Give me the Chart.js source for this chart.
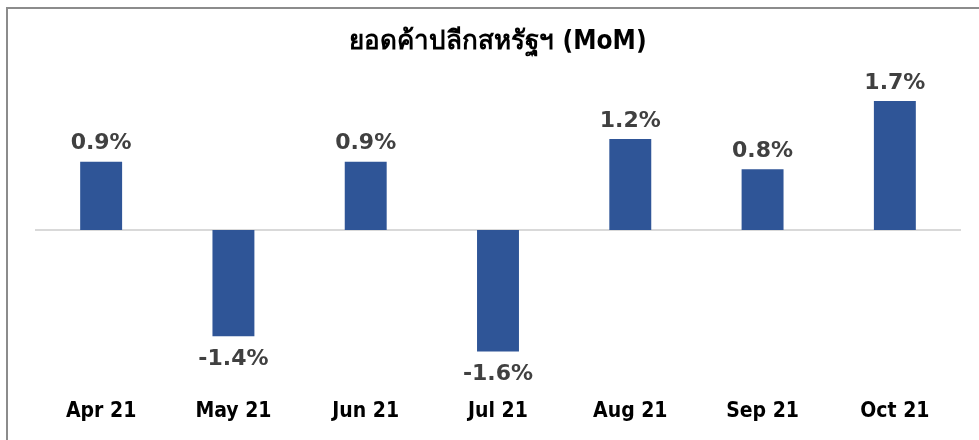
<!DOCTYPE html>
<html><head><meta charset="utf-8">
<script src="https://cdn.jsdelivr.net/npm/chart.js@4.4.0/dist/chart.umd.min.js"></script>
<style>
html,body{margin:0;padding:0;background:#fff;width:979px;height:440px;overflow:hidden;}
#frame{position:absolute;left:6px;top:7px;width:990px;height:450px;border-left:2px solid #8c8c8c;border-top:2px solid #8c8c8c;box-sizing:border-box;}
#wrap{position:absolute;left:0;top:0;width:979px;height:440px;}
</style></head><body>
<div id="frame"></div>
<div id="wrap"><canvas id="c" width="979" height="440"></canvas></div>
<script>
const categories = ["Apr 21","May 21","Jun 21","Jul 21","Aug 21","Sep 21","Oct 21"];
const values = [0.9, -1.4, 0.9, -1.6, 1.2, 0.8, 1.7];
const titleText = "ยอดค้าปลีกสหรัฐฯ (MoM)";

const labelPlugin = {
  id:'vlabels',
  afterDatasetsDraw(chart){
    const ctx = chart.ctx;
    const meta = chart.getDatasetMeta(0);
    ctx.save();
    ctx.font = "bold 22px 'DejaVu Sans'";
    ctx.fillStyle = "#404040";
    ctx.textAlign = "center";
    meta.data.forEach((bar,i)=>{
      const v = values[i];
      const txt = v.toFixed(1) + "%";
      if (v >= 0) { ctx.textBaseline = "bottom"; ctx.fillText(txt, bar.x, bar.y - 7); }
      else { ctx.textBaseline = "top"; ctx.fillText(txt, bar.x, bar.y + 12); }
    });
    ctx.restore();
  }
};
const zeroPlugin = {
  id:'zero',
  beforeDatasetsDraw(chart){
    const ctx = chart.ctx, y = chart.scales.y.getPixelForValue(0), a = chart.chartArea;
    ctx.save(); ctx.strokeStyle="#d9d9d9"; ctx.lineWidth=2;
    ctx.beginPath(); ctx.moveTo(a.left,y); ctx.lineTo(a.right,y); ctx.stroke(); ctx.restore();
  }
};

new Chart(document.getElementById('c'), {
  type:'bar',
  data:{labels:categories, datasets:[{data:values, backgroundColor:"#2F5597", barPercentage:0.317, categoryPercentage:1.0}]},
  options:{
    responsive:false, animation:false,
    layout:{padding:{left:35, right:18, top:0, bottom:-1}},
    plugins:{
      legend:{display:false}, tooltip:{enabled:false},
      title:{display:true, text:titleText, color:"#000", font:{family:"'DejaVu Sans Condensed','DejaVu Sans'", size:26, weight:'bold'}, padding:{top:27, bottom:20}}
    },
    scales:{
      x:{grid:{display:false, drawTicks:false}, border:{display:false},
         ticks:{color:"#000", padding:17, font:{family:"'DejaVu Sans Condensed','DejaVu Sans'", size:21, weight:'bold'}}},
      y:{display:false, min:-2, max:2}
    }
  },
  plugins:[zeroPlugin, labelPlugin]
});
</script></body></html>
